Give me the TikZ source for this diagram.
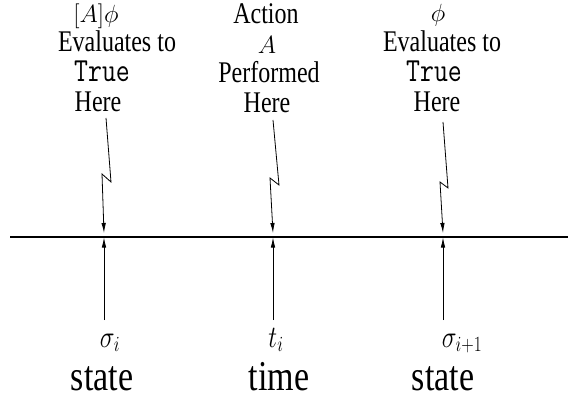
\documentclass[tikz,border=0pt]{standalone}
\usepackage[no-math]{fontspec}
\usepackage{graphicx}
\setmainfont{Liberation Serif}
\usetikzlibrary{arrows.meta}
\newcommand{\tallt}[1]{\scalebox{1}[1.25]{#1}}
\newcommand{\ttrue}{{\fontsize{27}{30}\selectfont\ttfamily True}}
\begin{document}
\begin{tikzpicture}[x=1pt,y=-1pt,
  toptext/.style={anchor=base,inner sep=0pt,font=\fontsize{24}{30}\selectfont},
  topmath/.style={anchor=base,inner sep=0pt,font=\fontsize{23}{28}\selectfont},
  mathlab/.style={anchor=base,inner sep=0pt,font=\fontsize{26}{30}\selectfont},
  biglab/.style={anchor=base,inner sep=0pt,font=\fontsize{34}{40}\selectfont},
  bolt/.style={line width=0.8pt,-{Latex[length=10pt,width=4.5pt]}},
  uparrow/.style={line width=0.8pt,-{Latex[length=10pt,width=4.5pt]}},
  axis/.style={line width=1.2pt}]
\useasboundingbox (0,0) rectangle (570,398);
% top labels, left
\node[topmath] (l1) at (96,23) {$[A]\phi$};
\node[toptext] (l2) at (117,52) {\tallt{Evaluates to}};
\node[toptext] (l3) at (102,82) {\tallt{\ttrue}};
\node[toptext] (l4) at (98,112) {\tallt{Here}};
% middle
\node[toptext] (m1) at (266,24) {\tallt{Action}};
\node[topmath] (m2) at (267,54) {$A$};
\node[toptext] (m3) at (269,83) {\tallt{Performed}};
\node[toptext] (m4) at (267,113) {\tallt{Here}};
% right
\node[topmath] (r1) at (438,22) {$\phi$};
\node[toptext] (r2) at (442,52) {\tallt{Evaluates to}};
\node[toptext] (r3) at (434,82) {\tallt{\ttrue}};
\node[toptext] (r4) at (437,112) {\tallt{Here}};
% axis
\coordinate (axS) at (10,237);
\coordinate (axE) at (568,237);
\draw[axis] (axS) -- (axE);
% bolt points
\coordinate (bl0) at (106,118);
\coordinate (bl1) at (111,182);
\coordinate (bl2) at (102,174);
\coordinate (blT) at (104,233);
\coordinate (bm0) at (273,120);
\coordinate (bm1) at (279,185);
\coordinate (bm2) at (270,178);
\coordinate (bmT) at (273,233);
\coordinate (br0) at (443,122);
\coordinate (br1) at (448,188);
\coordinate (br2) at (440,182);
\coordinate (brT) at (443,233);
\draw[bolt] (bl0) -- (bl1) -- (bl2) -- (blT);
\draw[bolt] (bm0) -- (bm1) -- (bm2) -- (bmT);
\draw[bolt] (br0) -- (br1) -- (br2) -- (brT);
% bottom arrows
\coordinate (ul0) at (104,320);
\coordinate (ulT) at (104,237.5);
\coordinate (um0) at (273,320);
\coordinate (umT) at (273,237.5);
\coordinate (ur0) at (443,320);
\coordinate (urT) at (443,237.5);
\draw[uparrow] (ul0) -- (ulT);
\draw[uparrow] (um0) -- (umT);
\draw[uparrow] (ur0) -- (urT);
% bottom labels
\node[mathlab] (s1) at (110,347) {\tallt{$\sigma_i$}};
\node[mathlab] (t1) at (276,347) {\tallt{$t_i$}};
\node[mathlab] (s2) at (462,347) {\tallt{$\sigma_{i+1}$}};
\node[biglab] (b1) at (102,390) {\tallt{state}};
\node[biglab] (b2) at (279,390) {\tallt{time}};
\node[biglab] (b3) at (443,390) {\tallt{state}};
\end{tikzpicture}
\end{document}
